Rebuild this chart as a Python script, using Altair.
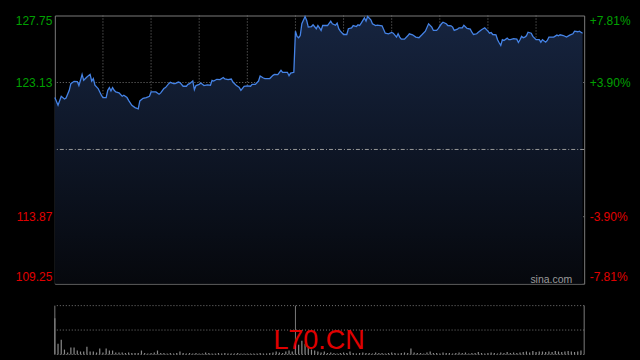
import altair as alt
import pandas as pd

# ---- price series (minutes after 09:30, HK session with 12:00-13:00 break collapsed) ----
minutes = [0, 2, 4, 6, 7, 9, 10, 12, 14, 15, 16, 17, 18, 20, 22, 23, 24, 25, 27, 29,
           30, 32, 33, 34, 35, 36, 37, 38, 40, 42, 43, 45, 46, 48, 50, 52, 53, 55, 57, 59,
           60, 63, 65, 66, 68, 69, 71, 72, 74, 75, 77, 78, 80, 82, 83, 84, 86, 87, 88, 90,
           91, 93, 95, 97, 98, 99, 101, 103, 105, 106, 108, 110, 111, 113, 115, 116, 118, 120, 122, 123,
           125, 127, 128, 130, 131, 134, 136, 137, 139, 141, 142, 145, 146, 147, 149,
           150, 151, 152, 153, 154, 156, 157, 158, 160, 161, 163, 164, 165, 166, 167, 170, 172, 173, 175, 176,
           177, 178, 180, 182, 183, 185, 186, 188, 189, 190, 191, 193, 194, 195, 197, 198, 200, 201, 204, 206,
           208, 210, 211, 213, 214, 215, 216, 218, 220, 221, 223, 225, 227, 229, 231, 233, 235, 236, 238, 239,
           241, 242, 244, 245, 247, 248, 249, 251, 252, 254, 255, 257, 259, 260, 261, 263, 264, 266, 267, 268,
           270, 271, 272, 273, 275, 276, 277, 278, 279, 280, 282, 283, 284, 286, 288, 289, 290, 291, 292, 293,
           294, 295, 297, 298, 300, 302, 303, 304, 306, 307, 308, 311, 313, 314, 315, 317, 319, 321, 323, 324,
           326, 327, 329]
prices = [122.09, 121.56, 122.18, 121.99, 122.06, 122.59, 123.05, 123.21, 123.19, 122.92, 123.28, 123.69, 123.28, 123.51, 123.69, 123.23, 123.40, 122.94, 122.71, 122.25,
          122.09, 122.09, 122.59, 122.78, 122.54, 122.78, 122.59, 122.48, 122.41, 122.18, 122.25, 122.09, 121.90, 121.56, 121.40, 121.31, 121.86, 122.04, 122.09, 122.18,
          122.48, 122.48, 122.32, 122.41, 122.71, 122.78, 123.05, 123.14, 123.05, 123.05, 123.16, 123.12, 122.87, 122.87, 123.00, 123.05, 123.23, 122.64, 122.92, 123.00,
          123.09, 122.92, 122.96, 122.94, 123.28, 123.23, 123.35, 123.33, 123.47, 123.37, 123.33, 123.37, 123.16, 122.94, 122.78, 122.59, 122.87, 122.89, 122.87, 123.00,
          123.00, 123.23, 123.58, 123.44, 123.40, 123.40, 123.62, 123.69, 123.67, 123.97, 123.83, 123.83, 123.60, 123.78, 123.83,
          126.67, 126.31, 126.22, 126.37, 127.18, 127.68, 127.41, 126.95, 126.99, 127.11, 126.84, 127.06, 126.90, 126.72, 127.06, 127.06, 127.36, 127.18, 127.08, 127.22,
          126.84, 126.67, 126.44, 126.44, 126.84, 126.90, 127.06, 126.99, 127.11, 127.06, 127.22, 127.59, 127.36, 127.68, 127.45, 127.18, 127.06, 127.08, 127.04, 126.53,
          126.49, 126.58, 126.53, 126.26, 126.49, 126.26, 126.12, 126.12, 126.35, 126.49, 126.42, 126.26, 126.22, 126.44, 126.67, 127.18, 126.95, 126.72, 126.72, 126.84,
          127.18, 127.29, 127.18, 127.06, 127.04, 126.95, 126.72, 126.81, 126.90, 126.90, 127.08, 126.86, 126.81, 126.60, 126.44, 126.49, 126.60, 126.77, 126.84, 126.90,
          126.67, 126.53, 126.58, 126.44, 126.42, 126.08, 125.87, 125.69, 126.08, 126.03, 126.19, 126.08, 126.08, 126.15, 126.12, 125.89, 126.08, 126.31, 126.22, 126.26,
          126.35, 126.60, 126.53, 126.31, 126.08, 126.08, 125.91, 126.08, 125.91, 126.03, 126.26, 126.26, 126.40, 126.35, 126.42, 126.37, 126.26, 126.40, 126.49, 126.67,
          126.63, 126.67, 126.53]

# ---- volume (2-minute buckets) ----
vol_minutes = list(range(0, 330, 2))
volumes = [74, 22, 30, 10, 4, 14, 14, 8, 6, 6, 16, 6, 6, 4, 12, 4, 12, 8, 8, 4,
           4, 4, 3, 4, 3, 3, 3, 8, 3, 2, 3, 4, 8, 3, 3, 2, 3, 2, 3, 6,
           3, 2, 3, 2, 3, 2, 2, 4, 3, 2, 2, 3, 2, 3, 2, 2, 2, 3, 2, 2,
           2, 2, 2, 2, 3, 2, 2, 3, 4, 6, 4, 3, 6, 8, 6,
           22, 20, 28, 22, 16, 10, 8, 6, 4, 6, 3, 4, 3, 2, 3, 4, 3, 6, 3, 2,
           3, 4, 3, 3, 2, 4, 3, 3, 2, 3, 4, 3, 2, 3, 4, 3, 12, 4, 3, 3,
           2, 4, 6, 3, 3, 2, 4, 3, 3, 2, 3, 4, 3, 4, 2, 3, 3, 5, 3, 2,
           3, 4, 3, 2, 4, 3, 5, 3, 4, 3, 4, 5, 6, 4, 7, 5, 6, 6, 5, 6,
           5, 7, 6, 5, 6, 7, 6, 5, 6, 8]

PREV_CLOSE = 118.51
price_ticks = [127.75, 123.13, 113.87, 109.25]
pct_labels = ["+7.81%", "+3.90%", "-3.90%", "-7.81%"]
grid_prices = [123.13, 113.87]
grid_minutes = [30, 60, 90, 120, 150, 180, 210, 240, 270, 300]
session_edges = [0, 150, 330]
vol_grid = [100, 50, 0]
ticker = "L70.CN"
watermark = "sina.com"

GREEN = "#00a000"
RED = "#e00000"
GRID = "#777777"
FONT = "Liberation Sans"

price_df = pd.DataFrame({"m": minutes, "p": prices})
vol_df = pd.DataFrame({"m": vol_minutes, "v": volumes})

xs = alt.Scale(domain=[0, 330], nice=False, zero=False, padding=0)
ys = alt.Scale(domain=[109.25, 127.75], nice=False, zero=False)
vs = alt.Scale(domain=[0, 100], nice=False, padding=0)

color_cond = {"condition": {"test": f"datum.value > {PREV_CLOSE}", "value": GREEN}, "value": RED}

left_axis = alt.Axis(values=price_ticks, format=".2f", labelColor=color_cond, labelFlush=True,
                     labelPadding=3, ticks=False, domain=False, grid=False, title=None,
                     labelFont=FONT, labelFontSize=12)

pct_expr = "".join(f"abs(datum.value - {v}) < 0.005 ? '{lab}' : " for v, lab in zip(price_ticks, pct_labels)) + "''"
right_axis = alt.Axis(values=price_ticks, orient="right", labelExpr=pct_expr, labelColor=color_cond,
                      labelFlush=True, labelPadding=5, labelAlign="left", ticks=False, domain=False,
                      grid=False, title=None, labelFont=FONT, labelFontSize=12)

gradient = alt.Gradient(gradient="linear",
                        stops=[alt.GradientStop(color="#16243f", offset=0),
                               alt.GradientStop(color="#06080d", offset=1)],
                        x1=1, x2=1, y1=0, y2=1)

area = alt.Chart(price_df).mark_area(color=gradient).encode(
    x=alt.X("m:Q", scale=xs, axis=None),
    y=alt.Y("p:Q", scale=ys, axis=left_axis),
    y2=alt.datum(109.25),
)
line = alt.Chart(price_df).mark_line(color="#4583e6", strokeWidth=1.3).encode(
    x=alt.X("m:Q", scale=xs, axis=None),
    y=alt.Y("p:Q", scale=ys, axis=None),
)
hgrid = alt.Chart(pd.DataFrame({"p": grid_prices})).mark_rule(color=GRID, strokeDash=[1, 2], strokeWidth=1).encode(
    y=alt.Y("p:Q", scale=ys, axis=None),
)
vgrid = alt.Chart(pd.DataFrame({"m": grid_minutes})).mark_rule(color=GRID, strokeDash=[1, 2], strokeWidth=1).encode(
    x=alt.X("m:Q", scale=xs, axis=None),
)
prev = alt.Chart(pd.DataFrame({"p": [PREV_CLOSE]})).mark_rule(color="#999999", strokeDash=[4, 2, 1, 2], strokeWidth=1).encode(
    y=alt.Y("p:Q", scale=ys, axis=right_axis),
)
wm = alt.Chart(pd.DataFrame({"t": [watermark]})).mark_text(
    align="right", baseline="alphabetic", color="#9a9a9a", font=FONT, fontSize=10.5
).encode(x=alt.value(519), y=alt.value(268), text="t:N")

price_chart = alt.layer(hgrid, vgrid, area, line, prev, wm).resolve_scale(y="independent").properties(
    width=531, height=269, view=alt.ViewBackground(stroke="#7a7a7a", strokeWidth=1)
)

bars = alt.Chart(vol_df).mark_bar(color="#8a8a8a", width=1.2).encode(
    x=alt.X("m:Q", scale=xs, axis=None),
    y=alt.Y("v:Q", scale=vs, axis=None),
)
vgrid_v = alt.Chart(pd.DataFrame({"v": vol_grid})).mark_rule(color=GRID, strokeDash=[1, 2], strokeWidth=1).encode(
    y=alt.Y("v:Q", scale=vs, axis=None),
)
edges = alt.Chart(pd.DataFrame({"m": session_edges})).mark_rule(color="#7a7a7a", strokeWidth=1).encode(
    x=alt.X("m:Q", scale=xs, axis=None),
    y=alt.Y(datum=0, scale=vs, axis=None),
    y2=alt.datum(100),
)
title = alt.Chart(pd.DataFrame({"t": [ticker]})).mark_text(
    align="center", baseline="alphabetic", color=RED, font=FONT, fontSize=27
).encode(x=alt.value(265), y=alt.value(44), text="t:N")

vol_chart = alt.layer(vgrid_v, bars, edges, title).properties(
    width=531, height=49, view=alt.ViewBackground(stroke="transparent")
)

chart = alt.vconcat(price_chart, vol_chart, spacing=19).properties(
    background="#000000",
    padding={"left": 14, "top": 12, "right": 9, "bottom": 6},
).configure_view(stroke="transparent")

chart.save("out.html", embed_options={"renderer": "svg", "actions": False})
